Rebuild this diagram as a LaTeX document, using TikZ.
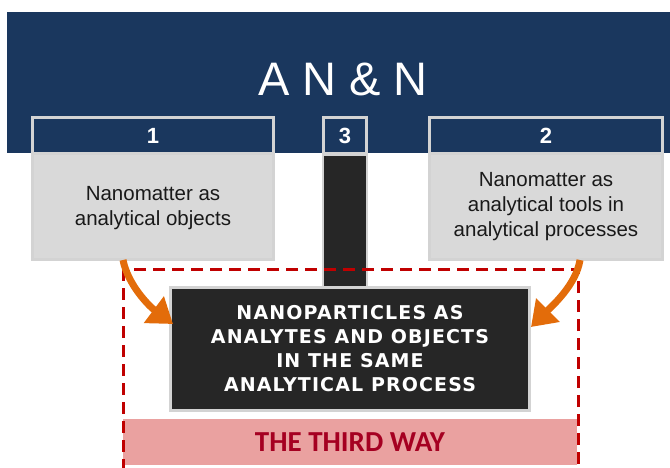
\documentclass[tikz,border=0pt]{standalone}
\usepackage{fontspec}
\setmainfont{Liberation Sans}
\newfontfamily\capsfont{DejaVu Sans}[LetterSpace=6]
\newfontfamily\calfont{Carlito}
\usetikzlibrary{arrows.meta,calc}
\definecolor{navy}{HTML}{1A375E}
\definecolor{boxgray}{HTML}{D9D9D9}
\definecolor{bordergray}{HTML}{D3D3D3}
\definecolor{darkbox}{HTML}{262626}
\definecolor{pinkbar}{HTML}{EAA1A0}
\definecolor{darkred}{HTML}{A50021}
\definecolor{dashred}{HTML}{C00000}
\definecolor{orangearrow}{HTML}{E36C0A}
\tikzset{
  graybox/.style={rectangle, fill=boxgray, draw=bordergray, line width=3pt, inner sep=0pt},
  headerbox/.style={rectangle, fill=navy, draw=bordergray, line width=3pt, inner sep=0pt,
    text=white, font=\fontsize{22}{26}\selectfont\bfseries},
  columnbox/.style={rectangle, fill=darkbox, draw=bordergray, line width=2pt, inner sep=0pt},
  bodytext/.style={align=center, inner sep=0pt, text=black!90,
    font=\fontsize{20.5}{25}\selectfont},
  mainbox/.style={rectangle, fill=darkbox, draw=bordergray, line width=3pt, inner sep=0pt,
    align=center, text=white, font=\fontsize{19}{24}\selectfont\capsfont\bfseries},
  waybar/.style={rectangle, fill=pinkbar, inner sep=0pt, text=darkred,
    font=\fontsize{29}{30}\selectfont\calfont\bfseries},
  reddash/.style={draw=dashred, line width=3pt, dash pattern=on 12pt off 7pt},
  bigarrow/.style={draw=orangearrow, line width=7pt,
    -{Triangle[length=24pt,width=32pt,fill=orangearrow]}}
}
\begin{document}
\begin{tikzpicture}[x=1pt,y=-1pt]
\useasboundingbox (0,0) rectangle (670,467);
\clip (0,0) rectangle (670,467);
% title band
\fill[navy] (7,12) rectangle (670,153);
\node[text=white, inner sep=0pt, font=\fontsize{47}{50}\selectfont] (title) at (343,79) {A N \& N};
% box 1
\node[graybox, minimum width=241pt, minimum height=142pt] (b1) at (153,188.5) {};
\node[headerbox, minimum width=241pt, minimum height=36pt] (h1) at (153,135.5) {1};
\node[bodytext] (t1) at (153,208) {Nanomatter as\\analytical objects};
% box 2
\node[graybox, minimum width=233pt, minimum height=142pt] (b2) at (546,188.5) {};
\node[headerbox, minimum width=233pt, minimum height=36pt] (h2) at (546,135.5) {2};
\node[bodytext] (t2) at (546,207) {Nanomatter as\\analytical tools in\\analytical processes};
% box 3
\node[columnbox, minimum width=44pt, minimum height=134pt] (c3) at (345,221.5) {};
\node[headerbox, minimum width=43pt, minimum height=36pt] (h3) at (345,135.5) {3};
% main box
\node[mainbox, minimum width=359pt, minimum height=123pt] (dk) at (350,349)
  {NANOPARTICLES AS\\ANALYTES AND OBJECTS\\IN THE SAME\\ANALYTICAL PROCESS};
% third way
\node[waybar, minimum width=454pt, minimum height=46pt] (way) at (350,442) {THE THIRD WAY};
% dashed frame
\coordinate (fr1) at (123,269);
\coordinate (fr2) at (578,500);
\draw[reddash] (fr1) rectangle (fr2);
% arrows
\draw[bigarrow] ($(b1.south west)+(92,-1)$) .. controls ($(b1.south west)+(97,24)$) and ($(dk.west)+(-20,-43)$) .. ($(dk.west)+(4,-25)$);
\draw[bigarrow] ($(b2.south east)+(-84,-1)$) .. controls ($(b2.south east)+(-88,24)$) and ($(dk.east)+(21,-43)$) .. ($(dk.east)+(0,-22)$);
\end{tikzpicture}
\end{document}
